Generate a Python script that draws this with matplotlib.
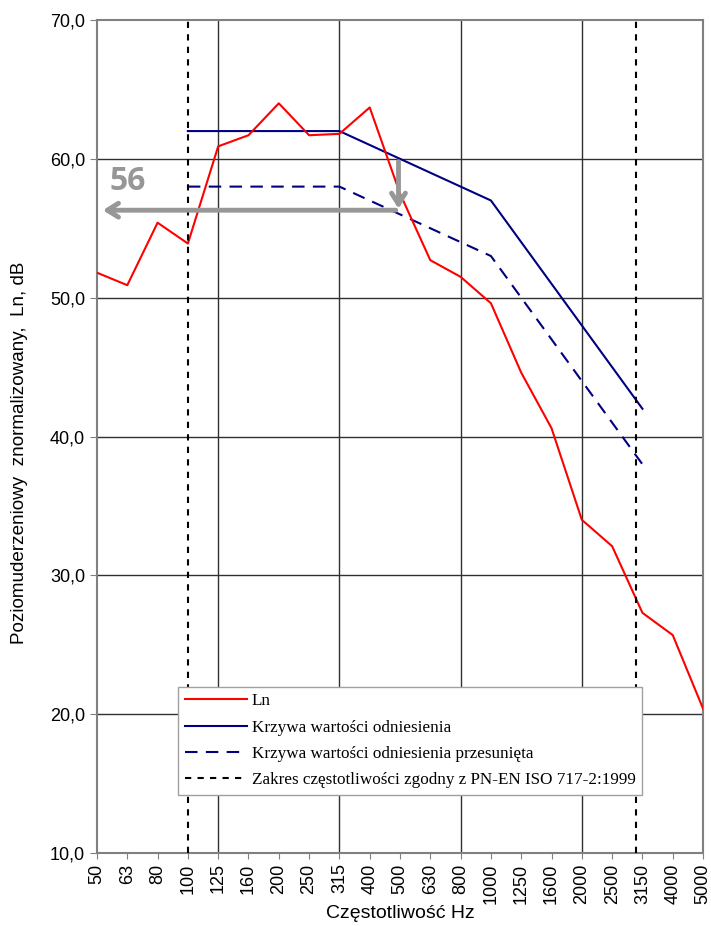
import matplotlib.pyplot as plt
import numpy as np

freqs = ['50', '63', '80', '100', '125', '160', '200', '250', '315', '400', '500',
         '630', '800', '1000', '1250', '1600', '2000', '2500', '3150', '4000', '5000']
ln = [51.8, 50.9, 55.4, 53.9, 60.9, 61.7, 64.0, 61.7, 61.8, 63.7, 57.5,
      52.7, 51.5, 49.6, 44.6, 40.6, 34.0, 32.1, 27.3, 25.7, 20.4]
# krzywa odniesienia wg PN-EN ISO 717-2, pasma 100..3150 Hz
ref = [62, 62, 62, 62, 62, 62, 61, 60, 59, 58, 57, 54, 51, 48, 45, 42]
shift = -4
ln_w = 56

plt.rcParams['font.family'] = ['Liberation Sans', 'DejaVu Sans']

fig = plt.figure(figsize=(7.11, 9.26), dpi=100)
ax = fig.add_axes([0.1364, 0.0788, 0.8524, 0.8996])

x = np.arange(len(freqs))
xr = np.arange(3, 3 + len(ref))
ref_shift = np.array(ref) + shift

ax.plot(x, ln, color='#ff0000', lw=1.5, label='Ln', zorder=4)
ax.plot(xr, ref, color='#000080', lw=1.5, label='Krzywa wartości odniesienia', zorder=3)
ax.plot(xr, ref_shift, color='#000080', lw=1.5, dashes=(6, 4),
        label='Krzywa wartości odniesienia przesunięta', zorder=3)
ax.axvline(3, color='black', lw=1.5, dashes=(3, 3), zorder=5,
           label='Zakres częstotliwości zgodny z PN-EN ISO 717-2:1999')
ax.axvline(17.8, color='black', lw=1.5, dashes=(3, 3), zorder=5)

# strzałki
grey = '#979797'
ax.annotate('', xy=(0.1, ln_w + 0.3), xytext=(9.95, ln_w + 0.3),
            arrowprops=dict(arrowstyle='->,head_length=0.8,head_width=0.5', color=grey, lw=3.5),
            zorder=6)
ax.annotate('', xy=(9.95, ln_w + 0.2), xytext=(9.95, 60),
            arrowprops=dict(arrowstyle='->,head_length=0.8,head_width=0.5', color=grey, lw=3.5),
            zorder=6)
ax.text(1.0, 58.4, str(ln_w), color=grey, fontsize=23, fontweight='bold',
        ha='center', va='center', family=['Open Sans', 'DejaVu Sans'])

ax.set_xlim(0, len(freqs) - 1)
ax.set_ylim(10, 70)
ax.set_xticks(x)
ax.set_xticklabels(freqs, rotation=90)
yt = np.arange(10, 71, 10)
ax.set_yticks(yt)
ax.set_yticklabels([('%.1f' % v).replace('.', ',') for v in yt])
ax.tick_params(axis='y', length=5, color='#808080', labelsize=13)
ax.tick_params(axis='x', length=4, color='#808080', labelsize=13)

for v in [4, 8, 12, 16]:
    ax.axvline(v, color='#303030', lw=1, zorder=1)
for v in [20, 30, 40, 50, 60]:
    ax.axhline(v, color='#303030', lw=1, zorder=1)
for s in ax.spines.values():
    s.set_color('#808080')
    s.set_linewidth(1.5)

ax.set_xlabel('Częstotliwość Hz', fontsize=14, labelpad=1)
ax.set_ylabel('Poziomuderzeniowy  znormalizowany,  Ln, dB', fontsize=13.6, labelpad=6)
ax.yaxis.set_label_coords(-0.113, 0.481)

leg = ax.legend(loc='lower left', bbox_to_anchor=(0.134, 0.0696), fancybox=False,
                framealpha=1, edgecolor='#a0a0a0', handlelength=3.6, handletextpad=0.3,
                labelspacing=0.6, borderpad=0.4, borderaxespad=0,
                prop={'family': ['Liberation Serif', 'DejaVu Serif'], 'size': 12.3})
leg.get_frame().set_linewidth(1)
leg.set_zorder(7)

fig.savefig('out.png', dpi=100)
